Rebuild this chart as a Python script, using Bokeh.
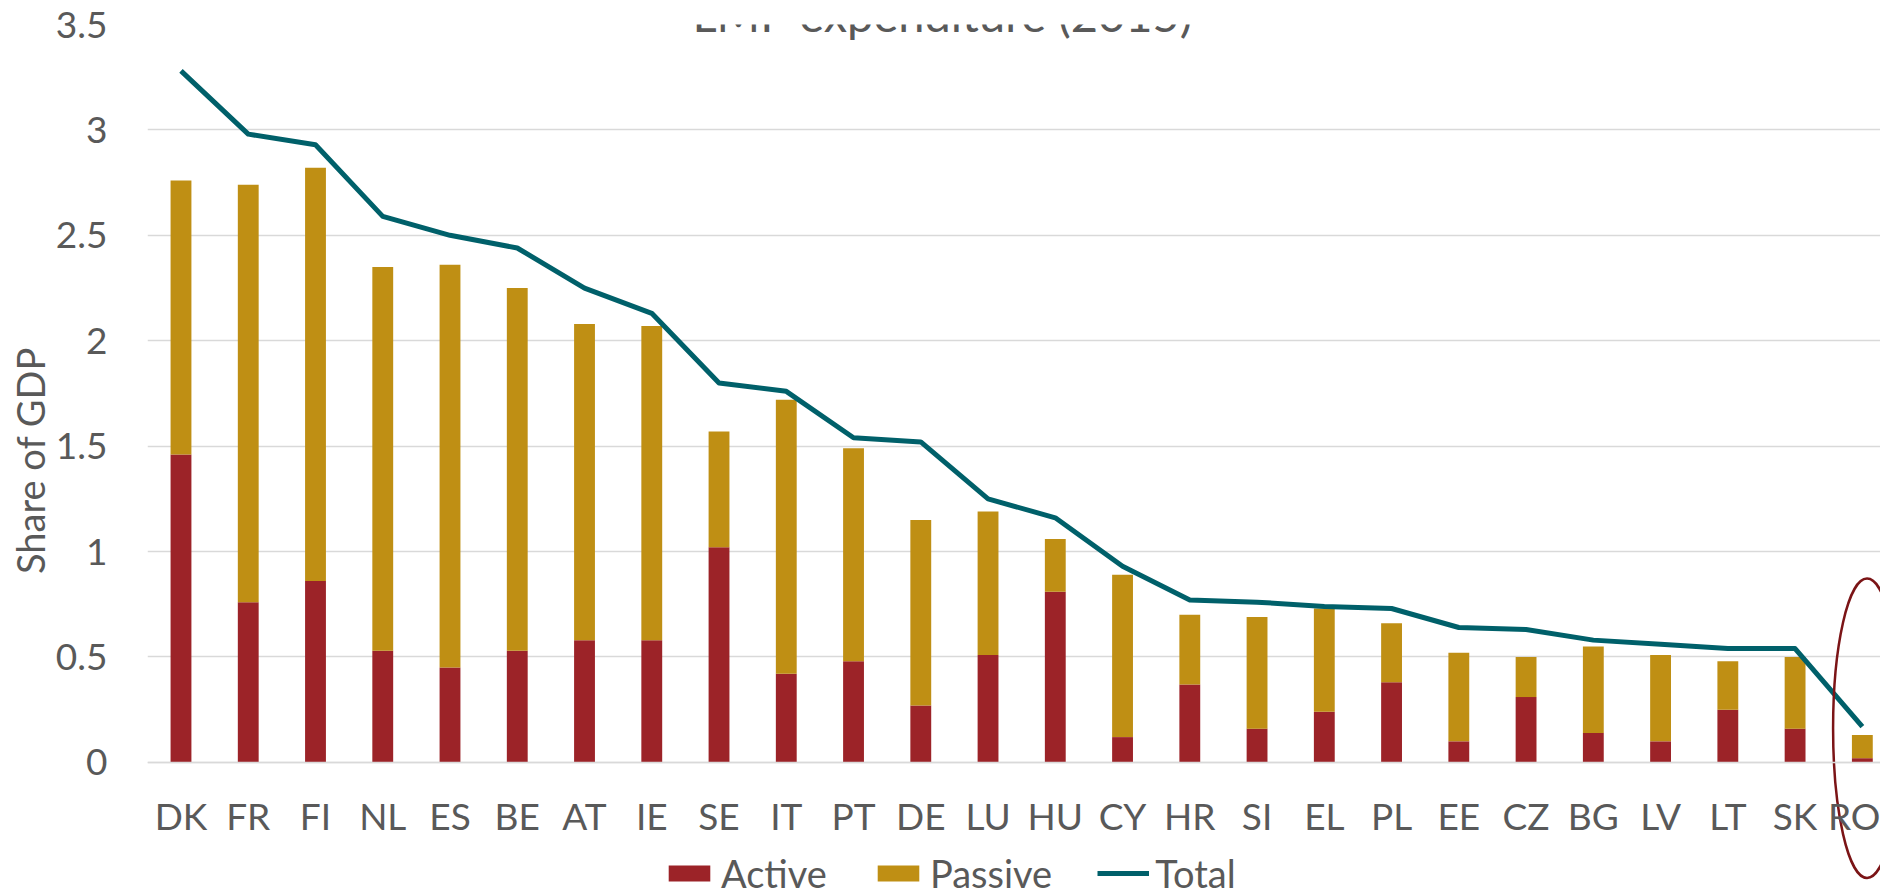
from bokeh.plotting import figure
from bokeh.models import ColumnDataSource, Range1d, FixedTicker, Legend, LegendItem, Label
from bokeh.embed import file_html
from bokeh.resources import INLINE

countries = ["DK", "FR", "FI", "NL", "ES", "BE", "AT", "IE", "SE", "IT", "PT", "DE", "LU",
             "HU", "CY", "HR", "SI", "EL", "PL", "EE", "CZ", "BG", "LV", "LT", "SK", "RO"]
active = [1.46, 0.76, 0.86, 0.53, 0.45, 0.53, 0.58, 0.58, 1.02, 0.42, 0.48, 0.27, 0.51,
          0.81, 0.12, 0.37, 0.16, 0.24, 0.38, 0.10, 0.31, 0.14, 0.10, 0.25, 0.16, 0.02]
passive = [1.30, 1.98, 1.96, 1.82, 1.91, 1.72, 1.50, 1.49, 0.55, 1.30, 1.01, 0.88, 0.68,
           0.25, 0.77, 0.33, 0.53, 0.49, 0.28, 0.42, 0.19, 0.41, 0.41, 0.23, 0.34, 0.11]
total = [3.28, 2.98, 2.93, 2.59, 2.50, 2.44, 2.25, 2.13, 1.80, 1.76, 1.54, 1.52, 1.25,
         1.16, 0.93, 0.77, 0.76, 0.74, 0.73, 0.64, 0.63, 0.58, 0.56, 0.54, 0.54, 0.17]
y_ticks = [0, 0.5, 1, 1.5, 2, 2.5, 3, 3.5]
title_text = "LMP  expenditure (2015)"

RED = "#9C2328"
GOLD = "#BF8F14"
TEAL = "#00606A"
GRID = "#D9D9D9"
TXT = "#595959"
FONT = "Lato"

idx = list(range(len(countries)))
src = ColumnDataSource(dict(x=idx, active=active, passive=passive, total=total))

p = figure(width=1880, height=896, output_backend="svg", toolbar_location=None,
           x_range=Range1d(-0.498, 25.27), y_range=Range1d(-0.636, 3.5),
           min_border_left=147, min_border_right=0, min_border_top=24, min_border_bottom=0)
p.outline_line_color = None
p.background_fill_color = "white"

bars = p.vbar_stack(["active", "passive"], x="x", width=0.31, color=[RED, GOLD],
                    line_color=None, source=src)
ln = p.line("x", "total", source=src, line_width=5, color=TEAL, line_join="round")

# axes
p.xaxis.fixed_location = 0
p.xaxis.ticker = FixedTicker(ticks=idx)
p.xaxis.major_label_overrides = {i: c for i, c in zip(idx, countries)}
p.yaxis.ticker = FixedTicker(ticks=y_ticks)
p.yaxis.major_label_overrides = {t: ("%g" % t) for t in y_ticks}
for ax in (p.xaxis[0], p.yaxis[0]):
    ax.major_tick_line_color = None
    ax.minor_tick_line_color = None
    ax.major_label_text_font = FONT
    ax.major_label_text_font_size = "37px"
    ax.major_label_text_color = TXT
p.xaxis.axis_line_color = GRID
p.xaxis.axis_line_width = 1.5
p.yaxis.axis_line_color = None
p.xaxis.major_label_standoff = 25
p.yaxis.major_label_standoff = 34
p.yaxis.axis_label = "Share of GDP"
p.yaxis.axis_label_text_font = FONT
p.yaxis.axis_label_text_font_size = "38px"
p.yaxis.axis_label_text_font_style = "normal"
p.yaxis.axis_label_text_color = TXT
p.yaxis.axis_label_standoff = 0
p.xgrid.grid_line_color = None
p.ygrid.grid_line_color = GRID
p.ygrid.grid_line_width = 1.5

legend = Legend(items=[LegendItem(label="Active", renderers=[bars[0]]),
                       LegendItem(label="Passive", renderers=[bars[1]]),
                       LegendItem(label="Total", renderers=[ln])],
                orientation="horizontal", location=(516, 0),
                label_text_font=FONT, label_text_font_size="38px", label_text_color=TXT,
                glyph_width=52, glyph_height=20, label_standoff=6, spacing=45,
                border_line_color=None, background_fill_alpha=0, padding=0, margin=0)
p.add_layout(legend, "center")

title = Label(x=11.42, y=3.5, y_offset=11, text=title_text, text_align="center",
              text_baseline="alphabetic", text_font=FONT, text_font_size="47px",
              text_color=TXT)
p.add_layout(title)

# highlight ellipse around the last country
p.ellipse(x=[idx[-1] + 0.07], y=[0.162], width=1.01, height=1.42,
          fill_alpha=0, line_color="#7B1416", line_width=2.5)

open("out.html", "w").write(file_html(p, INLINE))
